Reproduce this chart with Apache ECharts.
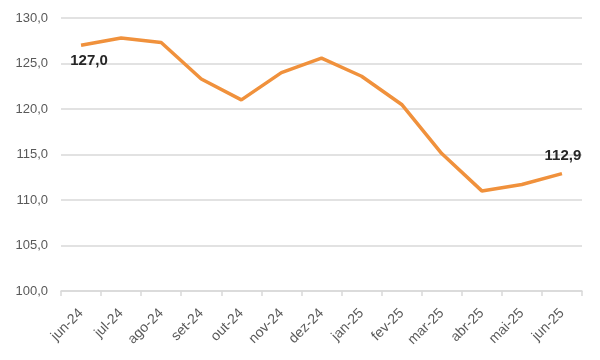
<!DOCTYPE html>
<html><head><meta charset="utf-8">
<script src="https://cdn.jsdelivr.net/npm/echarts@6/dist/echarts.min.js"></script>
<style>html,body{margin:0;padding:0;background:#fff}#c{width:600px;height:360px}</style>
</head><body><div id="c"></div>
<script>
const categories = ['jun-24','jul-24','ago-24','set-24','out-24','nov-24','dez-24','jan-25','fev-25','mar-25','abr-25','mai-25','jun-25'];
const values = [127.0,127.8,127.3,123.3,121.0,124.0,125.6,123.6,120.5,115.1,111.0,111.7,112.9];
const yTicks = {min:100, max:130, interval:5};
const fmt = v => v.toFixed(1).replace('.', ',');
const chart = echarts.init(document.getElementById('c'));
const lbl = {show:true,formatter:p=>fmt(p.value),fontSize:15,fontWeight:'bold',color:'#262626'};
const data = values.map((v,i)=>{
  const d = {value:v};
  if (i===0) d.label = Object.assign({}, lbl, {position:'bottom', offset:[8,3]});
  if (i===values.length-1) d.label = Object.assign({}, lbl, {position:'top', offset:[1,-5]});
  return d;
});
chart.setOption({
  animation:false,
  grid:{left:61,right:18,top:18,bottom:69},
  textStyle:{fontFamily:'Liberation Sans'},
  xAxis:{type:'category',data:categories,boundaryGap:true,
    axisLine:{lineStyle:{color:'#d9d9d9',width:1.5}},
    axisTick:{show:true,lineStyle:{color:'#d9d9d9',width:1.5},length:5},
    axisLabel:{rotate:45,color:'#595959',fontSize:14,margin:20}},
  yAxis:{type:'value',min:yTicks.min,max:yTicks.max,interval:yTicks.interval,
    axisLabel:{formatter:fmt,color:'#595959',fontSize:13,margin:13},
    axisLine:{show:false},axisTick:{show:false},
    splitLine:{lineStyle:{color:'#d9d9d9',width:1.5}}},
  series:[{type:'line',data:data,symbol:'circle',symbolSize:1,showSymbol:true,
    itemStyle:{color:'rgba(240,145,60,0)',borderWidth:0},
    lineStyle:{color:'#F0913C',width:3.5},
    label:{show:false}}]
});
</script></body></html>
